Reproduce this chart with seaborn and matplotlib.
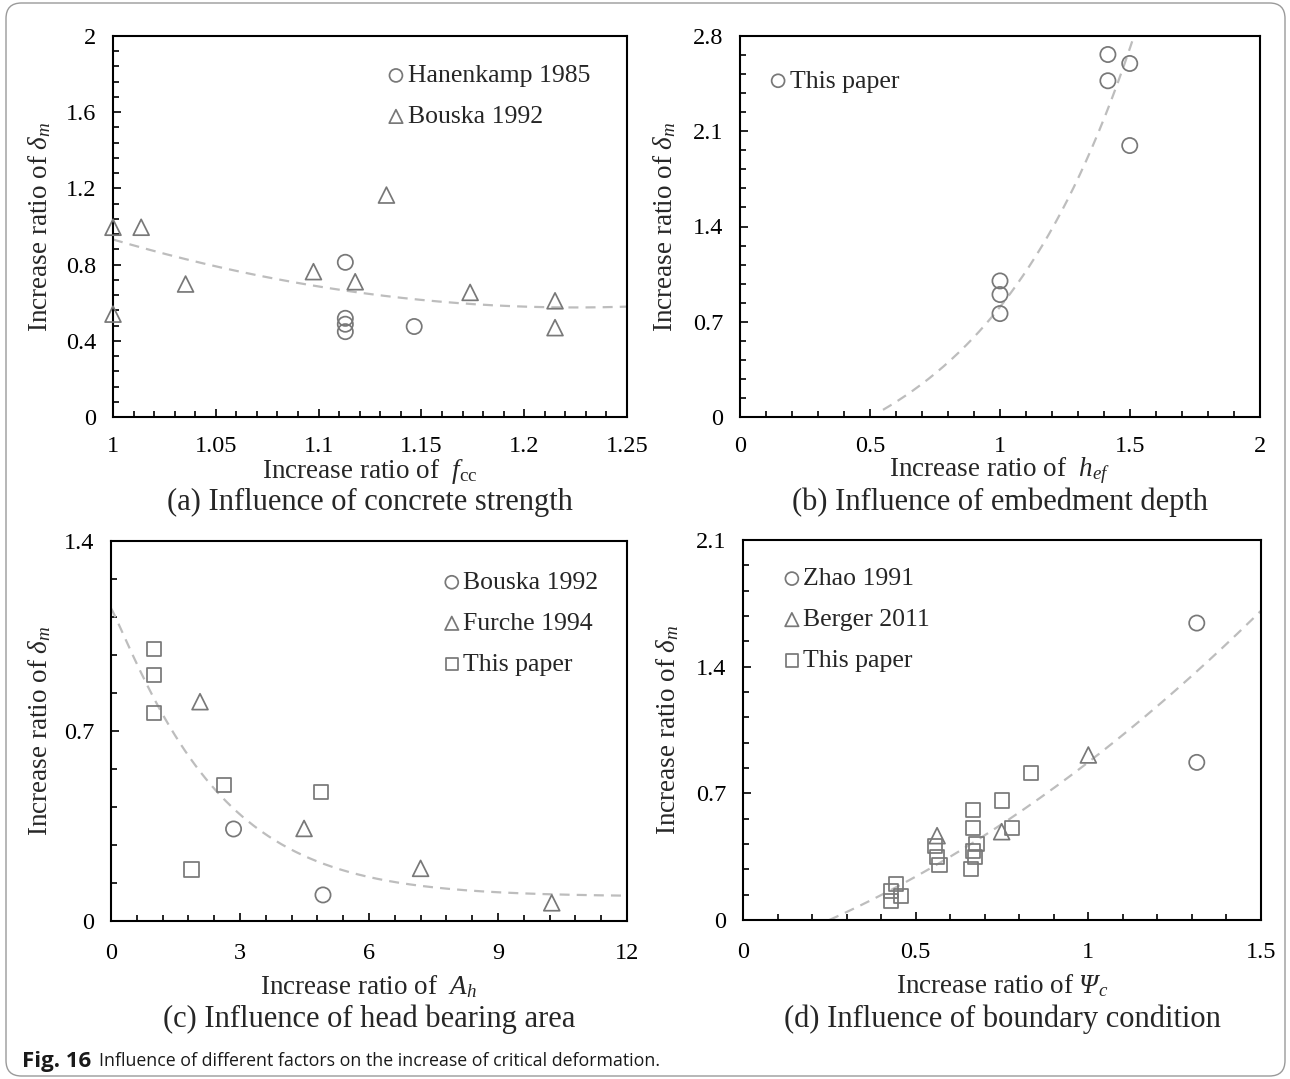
import numpy as np
import matplotlib
matplotlib.use("Agg")
import matplotlib.pyplot as plt
import seaborn as sns
from matplotlib.ticker import MultipleLocator
from matplotlib.patches import FancyBboxPatch

# ---------------- data ----------------
# (a) influence of concrete strength
a_hanenkamp_x = [1.113, 1.113, 1.113, 1.113, 1.1465]
a_hanenkamp_y = [0.812, 0.518, 0.487, 0.448, 0.475]
a_bouska_x = [1.0, 1.0137, 1.0353, 1.0, 1.0975, 1.1178, 1.133, 1.1737, 1.215, 1.215]
a_bouska_y = [0.996, 0.996, 0.698, 0.540, 0.763, 0.710, 1.165, 0.654, 0.610, 0.469]
a_trend_coef = (7.05, 1.225, 0.575)      # k*(x-h)^2 + c
a_trend_range = (1.0, 1.25)

# (b) influence of embedment depth
b_paper_x = [1.415, 1.499, 1.415, 1.499, 1.0, 1.0, 1.0]
b_paper_y = [2.664, 2.598, 2.471, 1.995, 1.0, 0.90, 0.76]
b_trend_coef = (0.2548, 1.71, -0.60)     # A*exp(k*x) + c
b_trend_range = (0.55, 1.515)

# (c) influence of head bearing area
c_bouska_x = [2.85, 4.93]
c_bouska_y = [0.339, 0.096]
c_furche_x = [2.07, 4.49, 7.20, 10.25]
c_furche_y = [0.808, 0.341, 0.194, 0.067]
c_paper_x = [1.0, 1.0, 1.0, 2.62, 4.88, 1.87]
c_paper_y = [1.001, 0.906, 0.765, 0.501, 0.476, 0.190]
c_trend_coef = (0.09, 1.062, 0.375, 1.1)  # c + A*exp(-k*x^p)
c_trend_range = (0.0, 12.0)

# (d) influence of boundary condition
d_zhao_x = [1.314, 1.314]
d_zhao_y = [1.641, 0.871]
d_berger_x = [1.0, 0.562, 0.749]
d_berger_y = [0.912, 0.466, 0.488]
d_paper_x = [0.833, 0.750, 0.667, 0.667, 0.779, 0.676, 0.665, 0.672, 0.660,
             0.555, 0.562, 0.569, 0.444, 0.429, 0.429, 0.458]
d_paper_y = [0.814, 0.661, 0.610, 0.510, 0.508, 0.420, 0.380, 0.350, 0.282,
             0.411, 0.350, 0.306, 0.199, 0.162, 0.107, 0.134]
d_trend_coef = (0.4085, 0.6523, -0.1886)  # a*x^2 + b*x + c
d_trend_range = (0.25, 1.5)

# tick labels
a_xticks = [1.0, 1.05, 1.1, 1.15, 1.2, 1.25]
a_xlabels = ["1", "1.05", "1.1", "1.15", "1.2", "1.25"]
a_yticks = [0, 0.4, 0.8, 1.2, 1.6, 2.0]
a_ylabels = ["0", "0.4", "0.8", "1.2", "1.6", "2"]
b_xticks = [0, 0.5, 1, 1.5, 2]
b_xlabels = ["0", "0.5", "1", "1.5", "2"]
b_yticks = [0, 0.7, 1.4, 2.1, 2.8]
b_ylabels = ["0", "0.7", "1.4", "2.1", "2.8"]
c_xticks = [0, 3, 6, 9, 12]
c_xlabels = ["0", "3", "6", "9", "12"]
c_yticks = [0, 0.7, 1.4]
c_ylabels = ["0", "0.7", "1.4"]
d_xticks = [0, 0.5, 1, 1.5]
d_xlabels = ["0", "0.5", "1", "1.5"]
d_yticks = [0, 0.7, 1.4, 2.1]
d_ylabels = ["0", "0.7", "1.4", "2.1"]

# ---------------- style ----------------
sns.set_style("ticks")
plt.rcParams["font.family"] = ["Liberation Serif", "DejaVu Serif"]
plt.rcParams["mathtext.fontset"] = "custom"
plt.rcParams["mathtext.rm"] = "Liberation Serif"
plt.rcParams["mathtext.it"] = "Liberation Serif:italic"
plt.rcParams["mathtext.bf"] = "Liberation Serif:bold"
plt.rcParams["mathtext.sf"] = "Liberation Serif:italic"

GRAY = "#787878"
TREND = "#bdbdbd"
W, H = 1290, 1079
fig = plt.figure(figsize=(W / 100, H / 100), dpi=100)


def add_ax(l, r, t, b):
    return fig.add_axes([l / W, 1 - b / H, (r - l) / W, (b - t) / H])


def style_ax(ax, xlim, ylim, xt, xl, yt, yl, xminor, yminor, xpad):
    ax.set_xlim(xlim)
    ax.set_ylim(ylim)
    ax.set_xticks(xt)
    ax.set_xticklabels(xl)
    ax.set_yticks(yt)
    ax.set_yticklabels(yl)
    ax.xaxis.set_minor_locator(MultipleLocator(xminor))
    ax.yaxis.set_minor_locator(MultipleLocator(yminor))
    ax.tick_params(which="both", direction="in", top=False, right=False,
                   width=1.2, color="black", labelsize=17.5, labelcolor="black")
    ax.tick_params(which="major", length=6)
    ax.tick_params(which="minor", length=4.5)
    ax.tick_params(axis="x", pad=xpad)
    ax.tick_params(axis="y", pad=12)
    for s in ax.spines.values():
        s.set_visible(True)
        s.set_linewidth(1.5)
        s.set_color("black")
    ax.grid(False)
    ax.set_facecolor("white")


def pts(ax, x, y, marker, label, s=120):
    sns.scatterplot(x=x, y=y, marker=marker, s=s, facecolor="none",
                    edgecolor=GRAY, linewidth=1.25, ax=ax, label=label,
                    clip_on=False, zorder=3)


def trend(ax, x, y):
    ax.plot(x, y, color=TREND, lw=1.6, linestyle=(0, (4.5, 3.2)), zorder=2)


def legend(ax, x, y):
    ax.legend(loc="upper left", bbox_to_anchor=(x, y), frameon=False,
              fontsize=18.5, handlelength=0.7, handletextpad=0.1,
              labelspacing=0.7, borderpad=0, borderaxespad=0, markerscale=0.85)


def labels(ax, xlab, ylab, sub, xl_y, sub_y, yl_x):
    ax.set_xlabel(xlab, fontsize=19.5, va="center")
    ax.xaxis.set_label_coords(0.5, xl_y)
    ax.set_ylabel(ylab, fontsize=19.5, va="center")
    ax.yaxis.set_label_coords(yl_x, 0.5)
    ax.text(0.5, sub_y, sub, transform=ax.transAxes, ha="center",
            va="center", fontsize=22)


YLAB = r"Increase ratio of $\delta_m$"

# ---- (a)
ax = add_ax(113, 627, 36, 417)
xx = np.linspace(*a_trend_range, 200)
k, h, c = a_trend_coef
trend(ax, xx, k * (xx - h) ** 2 + c)
pts(ax, a_hanenkamp_x, a_hanenkamp_y, "o", "Hanenkamp 1985")
pts(ax, a_bouska_x, a_bouska_y, "^", "Bouska 1992", s=130)
style_ax(ax, (1.0, 1.25), (0, 2), a_xticks, a_xlabels, a_yticks, a_ylabels, 0.01, 0.08, 14)
legend(ax, 0.533, 0.926)
labels(ax, r"Increase ratio of  $f_{\mathrm{cc}}$", YLAB,
       "(a) Influence of concrete strength", -0.142, -0.225, -0.142)

# ---- (b)
ax = add_ax(740, 1260, 36, 417)
xx = np.linspace(*b_trend_range, 200)
A, k, c = b_trend_coef
trend(ax, xx, A * np.exp(k * xx) + c)
pts(ax, b_paper_x, b_paper_y, "o", "This paper")
style_ax(ax, (0, 2), (0, 2.8), b_xticks, b_xlabels, b_yticks, b_ylabels, 0.1, 0.14, 14)
legend(ax, 0.056, 0.912)
labels(ax, r"Increase ratio of  $h_{ef}$", YLAB,
       "(b) Influence of embedment depth", -0.142, -0.225, -0.145)

# ---- (c)
ax = add_ax(111, 627, 541, 921)
xx = np.linspace(*c_trend_range, 300)
c0, A, k, p = c_trend_coef
trend(ax, xx, c0 + A * np.exp(-k * xx ** p))
pts(ax, c_bouska_x, c_bouska_y, "o", "Bouska 1992")
pts(ax, c_furche_x, c_furche_y, "^", "Furche 1994", s=130)
pts(ax, c_paper_x, c_paper_y, "s", "This paper", s=105)
style_ax(ax, (0, 12), (0, 1.4), c_xticks, c_xlabels, c_yticks, c_ylabels, 0.6, 0.14, 16)
legend(ax, 0.643, 0.921)
labels(ax, r"Increase ratio of  $A_h$", YLAB,
       "(c) Influence of head bearing area", -0.172, -0.258, -0.138)

# ---- (d)
ax = add_ax(743, 1261, 540, 920)
xx = np.linspace(*d_trend_range, 200)
a2, b1, c0 = d_trend_coef
trend(ax, xx, a2 * xx ** 2 + b1 * xx + c0)
pts(ax, d_zhao_x, d_zhao_y, "o", "Zhao 1991")
pts(ax, d_berger_x, d_berger_y, "^", "Berger 2011", s=130)
pts(ax, d_paper_x, d_paper_y, "s", "This paper", s=105)
style_ax(ax, (0, 1.5), (0, 2.1), d_xticks, d_xlabels, d_yticks, d_ylabels, 0.1, 0.14, 16)
legend(ax, 0.077, 0.928)
labels(ax, r"Increase ratio of $\mathsf{\Psi}_c$", YLAB,
       "(d) Influence of boundary condition", -0.172, -0.26, -0.146)

# ---- frame and caption
border = FancyBboxPatch((6 / W, 3 / H), 1279 / W, 1073 / H,
                        boxstyle="round,pad=0,rounding_size=0.012",
                        transform=fig.transFigure, fill=False,
                        edgecolor="#9a9a9a", linewidth=1.0,
                        mutation_aspect=W / H)
fig.patches.append(border)
cap1 = fig.text(22 / W, 1 - 1061 / H, "Fig. 16", fontsize=16, fontweight="bold",
                family=["Open Sans", "DejaVu Sans"], va="center", color="#1a1a1a")
fig.canvas.draw()
bb = cap1.get_window_extent()
fig.text((bb.x1 + 8) / W, 1 - 1061 / H,
         "Influence of different factors on the increase of critical deformation.",
         fontsize=12.8, family=["Open Sans", "DejaVu Sans"], va="center",
         color="#1a1a1a")

fig.savefig("out.png", dpi=100)
